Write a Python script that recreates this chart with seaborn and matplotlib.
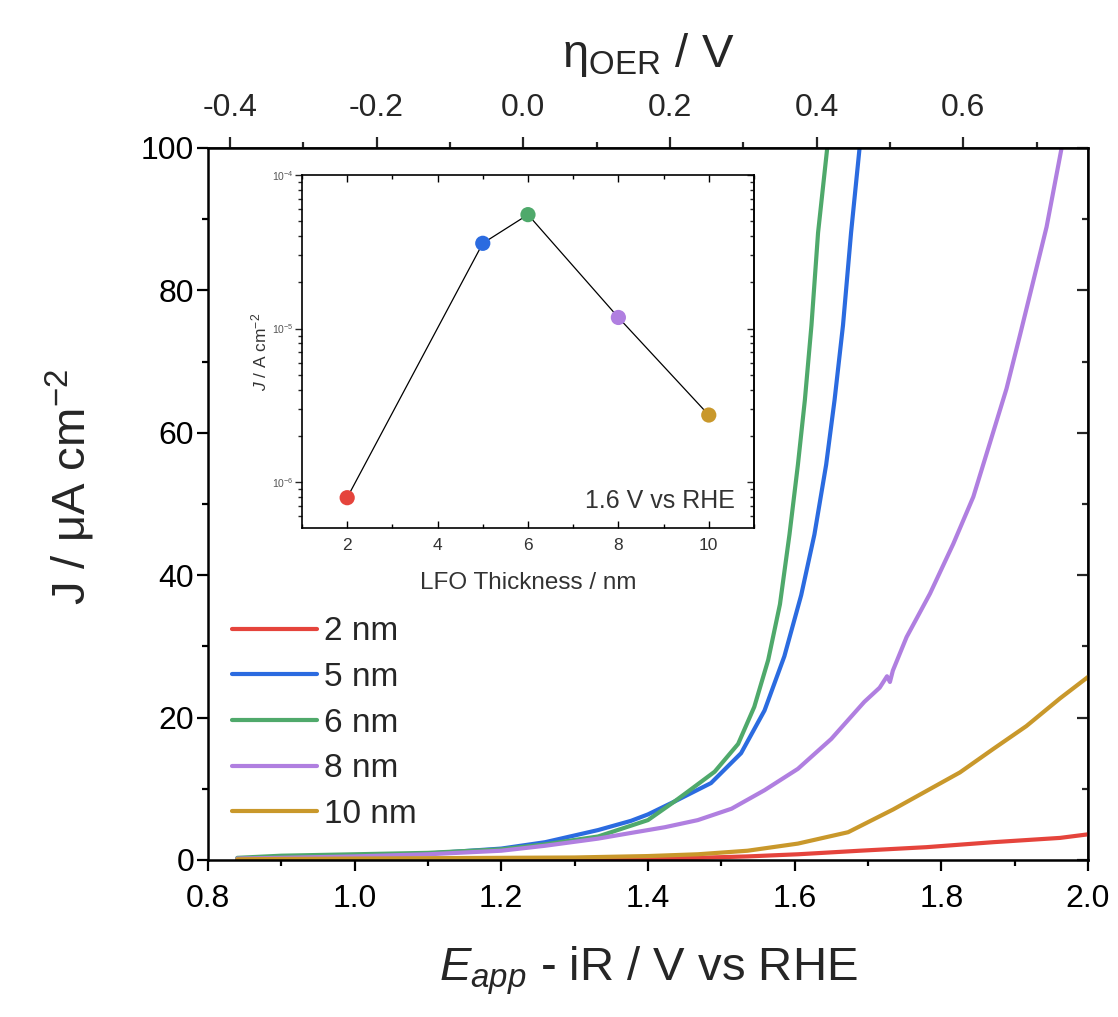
import numpy as np
import pandas as pd
import matplotlib
matplotlib.use("Agg")
import matplotlib.pyplot as plt
import seaborn as sns
from matplotlib.ticker import MultipleLocator, LogLocator, NullFormatter, FixedLocator

# ---------------- data ----------------
E_2nm = [0.84, 0.90, 1.00, 1.10, 1.20, 1.30, 1.40, 1.468, 1.536, 1.6045, 1.689, 1.78, 1.871, 1.962, 2.0]
J_2nm = [0.1, 0.1, 0.1, 0.15, 0.2, 0.2, 0.25, 0.3, 0.5, 0.8, 1.3, 1.8, 2.5, 3.1, 3.6]

E_5nm = [0.84, 0.90, 1.00, 1.10, 1.20, 1.26, 1.332, 1.377, 1.40, 1.436, 1.486, 1.527, 1.559, 1.586,
         1.609, 1.627, 1.643, 1.6545, 1.666, 1.677, 1.6886]
J_5nm = [0.2, 0.4, 0.6, 0.9, 1.6, 2.5, 4.2, 5.5, 6.4, 8.2, 10.8, 15.0, 21.0, 28.6,
         37.2, 45.7, 55.5, 64.6, 75.1, 88.1, 100]

E_6nm = [0.84, 0.90, 1.00, 1.10, 1.20, 1.26, 1.332, 1.40, 1.436, 1.4545, 1.491, 1.523, 1.545, 1.564,
         1.580, 1.593, 1.6045, 1.614, 1.623, 1.632, 1.6445]
J_6nm = [0.3, 0.6, 0.8, 1.0, 1.5, 2.2, 3.3, 5.6, 8.2, 9.6, 12.4, 16.3, 21.5, 28.1,
         35.9, 45.7, 55.5, 64.6, 75.1, 88.1, 100]

E_8nm = [0.84, 0.90, 1.00, 1.10, 1.20, 1.26, 1.332, 1.377, 1.423, 1.468, 1.514, 1.559, 1.6045, 1.65,
         1.695, 1.716, 1.726, 1.730, 1.734, 1.7527, 1.7846, 1.8164, 1.8437, 1.8664, 1.889, 1.9073,
         1.9255, 1.9436, 1.9641]
J_8nm = [0.2, 0.3, 0.5, 0.8, 1.3, 2.0, 3.0, 3.8, 4.6, 5.6, 7.2, 9.8, 12.8, 17.0,
         22.2, 24.2, 25.8, 25.0, 26.6, 31.3, 37.4, 44.4, 51.0, 58.6, 66.2, 73.7,
         81.3, 88.9, 100]

E_10nm = [0.84, 0.90, 1.00, 1.10, 1.20, 1.30, 1.40, 1.468, 1.536, 1.6045, 1.673, 1.7345, 1.78, 1.8255,
          1.871, 1.916, 1.962, 2.0]
J_10nm = [0.1, 0.15, 0.2, 0.25, 0.3, 0.35, 0.55, 0.8, 1.3, 2.3, 3.9, 7.1, 9.7, 12.3,
          15.6, 18.8, 22.7, 25.7]

labels = ["2 nm", "5 nm", "6 nm", "8 nm", "10 nm"]
colors = ["#E5443C", "#2B6BE0", "#4FA96B", "#B07FE0", "#C9982B"]

thickness = [2, 5, 6, 8, 10]
J_at_16V = [7.9e-7, 3.59e-5, 5.52e-5, 1.18e-5, 2.73e-6]

top_ticks = [-0.4, -0.2, 0.0, 0.2, 0.4, 0.6]
top_minor = [-0.3, -0.1, 0.1, 0.3, 0.5, 0.7]
E_OER = 1.23

# ---------------- style ----------------
sns.set_theme(style="ticks")
plt.rcParams["font.family"] = ["Liberation Sans", "DejaVu Sans"]
plt.rcParams["axes.unicode_minus"] = False
plt.rcParams["mathtext.fontset"] = "custom"
plt.rcParams["mathtext.rm"] = "Liberation Sans"
plt.rcParams["mathtext.it"] = "Liberation Sans:italic"
plt.rcParams["mathtext.bf"] = "Liberation Sans:bold"

fig = plt.figure(figsize=(11.18, 10.17), dpi=100)
ax = fig.add_axes([0.1860, 0.1544, 0.7871, 0.7001])

series = [(E_2nm, J_2nm), (E_5nm, J_5nm), (E_6nm, J_6nm), (E_8nm, J_8nm), (E_10nm, J_10nm)]
for (E, J), lab, col in zip(series, labels, colors):
    df = pd.DataFrame({"E": E, "J": J})
    sns.lineplot(data=df, x="E", y="J", ax=ax, color=col, lw=3, label=lab,
                 sort=False, estimator=None)

ax.set_xlim(0.8, 2.0)
ax.set_ylim(0, 100)
ax.xaxis.set_major_locator(MultipleLocator(0.2))
ax.xaxis.set_minor_locator(MultipleLocator(0.1))
ax.yaxis.set_major_locator(MultipleLocator(20))
ax.yaxis.set_minor_locator(MultipleLocator(10))
ax.tick_params(which="both", direction="out", width=1.6, colors="black")
ax.tick_params(which="major", length=8, labelsize=23)
ax.tick_params(which="minor", length=4.5)
ax.tick_params(axis="x", which="major", pad=9)
ax.tick_params(axis="y", which="major", pad=2)
for s in ax.spines.values():
    s.set_linewidth(1.8)
    s.set_color("black")

ax.set_xlabel(r"$E_{app}$ - iR / V vs RHE", fontsize=34, labelpad=22)
ax.set_ylabel(r"J / μA cm$^{-2}$", fontsize=34)
ax.yaxis.set_label_coords(-0.126, 0.524)

# top axis: overpotential
top = ax.secondary_xaxis("top", functions=(lambda e: e - E_OER, lambda n: n + E_OER))
top.xaxis.set_major_locator(FixedLocator(top_ticks))
top.xaxis.set_minor_locator(FixedLocator(top_minor))
top.tick_params(which="both", direction="out", width=1.6)
top.tick_params(which="major", length=8, labelsize=23, pad=10)
top.tick_params(which="minor", length=4.5)
top.set_xlabel(r"η$_{\mathrm{OER}}$ / V", fontsize=34, labelpad=19)

# right axis ticks (inward)
right = ax.secondary_yaxis("right")
right.yaxis.set_major_locator(MultipleLocator(20))
right.yaxis.set_minor_locator(MultipleLocator(10))
right.tick_params(which="both", direction="in", width=1.6, labelright=False)
right.tick_params(which="major", length=8)
right.tick_params(which="minor", length=4.5)

leg = ax.legend(loc="upper left", bbox_to_anchor=(0.027, 0.342), frameon=False,
                fontsize=24, handlelength=2.55, handletextpad=0.22, labelspacing=0.44,
                borderpad=0, borderaxespad=0)
for h in leg.get_lines():
    h.set_linewidth(3)

# ---------------- inset ----------------
axi = fig.add_axes([0.2701, 0.4808, 0.4043, 0.3471])
dfi = pd.DataFrame({"t": thickness, "J": J_at_16V, "lab": labels})
sns.lineplot(data=dfi, x="t", y="J", ax=axi, color="black", lw=0.9, sort=False, estimator=None)
sns.scatterplot(data=dfi, x="t", y="J", hue="lab", palette=dict(zip(labels, colors)),
                ax=axi, s=120, edgecolor="none", legend=False, zorder=3)
axi.set_yscale("log")
axi.set_xlim(1, 11)
axi.set_ylim(10 ** -6.3, 1e-4)
axi.xaxis.set_major_locator(MultipleLocator(2))
axi.xaxis.set_minor_locator(MultipleLocator(1))
axi.yaxis.set_major_locator(LogLocator(base=10, numticks=10))
axi.yaxis.set_minor_locator(LogLocator(base=10, subs=np.arange(2, 10), numticks=10))
axi.yaxis.set_minor_formatter(NullFormatter())
axi.tick_params(axis="x", which="both", direction="in", top=True, width=1.0, colors="black")
axi.tick_params(axis="x", which="major", length=5, labelsize=12.5, pad=7, labelcolor="#333333")
axi.tick_params(axis="x", which="minor", length=3)
axi.tick_params(axis="y", which="both", direction="out", width=1.0)
axi.tick_params(axis="y", which="major", length=5, labelsize=7.5, pad=1, labelcolor="#555555")
axi.tick_params(axis="y", which="minor", length=3)
for s in axi.spines.values():
    s.set_linewidth(1.2)
    s.set_color("black")
axi.set_xlabel("LFO Thickness / nm", fontsize=17.5, color="#333333", labelpad=14)
axi.set_ylabel(r"$J$ / A cm$^{-2}$", fontsize=12.5, color="#333333", labelpad=2)
righti = axi.secondary_yaxis("right")
righti.yaxis.set_major_locator(LogLocator(base=10, numticks=10))
righti.yaxis.set_minor_locator(LogLocator(base=10, subs=np.arange(2, 10), numticks=10))
righti.tick_params(which="both", direction="in", width=1.0, labelright=False)
righti.tick_params(which="major", length=5)
righti.tick_params(which="minor", length=3)
axi.text(0.958, 0.042, "1.6 V vs RHE", transform=axi.transAxes, ha="right", va="bottom",
         fontsize=18, color="#333333")

fig.savefig("out.png", dpi=100)
